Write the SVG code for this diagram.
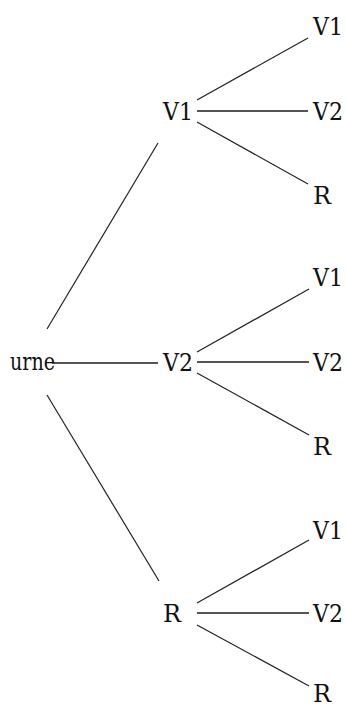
<svg xmlns="http://www.w3.org/2000/svg" width="345" height="707" viewBox="0 0 345 707">
<style>
text{font-family:'DejaVu Serif','Liberation Serif',serif;font-size:24px;fill:#111}
.c line{stroke:#222;stroke-width:1.2}
.c line.h{stroke:#555;stroke-width:1.8}
</style>
<rect width="345" height="707" fill="#fff"/>
<g class="c" id="connectors">
<line x1="47" y1="329" x2="158" y2="143"/>
<line class="h" x1="52" y1="363" x2="158" y2="363"/>
<line x1="47" y1="395" x2="159" y2="581"/>
<line x1="197" y1="100" x2="308" y2="38"/>
<line class="h" x1="197" y1="111" x2="308" y2="111"/>
<line x1="197" y1="122" x2="308" y2="184"/>
<line x1="197" y1="352" x2="309" y2="289"/>
<line class="h" x1="197" y1="362" x2="309" y2="362"/>
<line x1="197" y1="373" x2="309" y2="435"/>
<line x1="197" y1="603" x2="309" y2="540"/>
<line class="h" x1="197" y1="613" x2="309" y2="613"/>
<line x1="197" y1="625" x2="309" y2="686"/>
</g>
<g id="urne"><text x="10" y="370" textLength="45" lengthAdjust="spacingAndGlyphs">urne</text></g>
<g id="n-V1"><text x="163" y="120" textLength="30" lengthAdjust="spacingAndGlyphs">V1</text></g>
<g id="n-V2"><text x="163" y="371" textLength="30" lengthAdjust="spacingAndGlyphs">V2</text></g>
<g id="n-R"><text x="163" y="622" textLength="18" lengthAdjust="spacingAndGlyphs">R</text></g>
<g id="n-V1-V1"><text x="313" y="35" textLength="30" lengthAdjust="spacingAndGlyphs">V1</text></g>
<g id="n-V1-V2"><text x="313" y="120" textLength="30" lengthAdjust="spacingAndGlyphs">V2</text></g>
<g id="n-V1-R"><text x="313" y="204" textLength="18" lengthAdjust="spacingAndGlyphs">R</text></g>
<g id="n-V2-V1"><text x="313" y="286" textLength="30" lengthAdjust="spacingAndGlyphs">V1</text></g>
<g id="n-V2-V2"><text x="313" y="371" textLength="30" lengthAdjust="spacingAndGlyphs">V2</text></g>
<g id="n-V2-R"><text x="313" y="455" textLength="18" lengthAdjust="spacingAndGlyphs">R</text></g>
<g id="n-R-V1"><text x="313" y="539" textLength="30" lengthAdjust="spacingAndGlyphs">V1</text></g>
<g id="n-R-V2"><text x="313" y="622" textLength="30" lengthAdjust="spacingAndGlyphs">V2</text></g>
<g id="n-R-R"><text x="313" y="702" textLength="18" lengthAdjust="spacingAndGlyphs">R</text></g>
</svg>
